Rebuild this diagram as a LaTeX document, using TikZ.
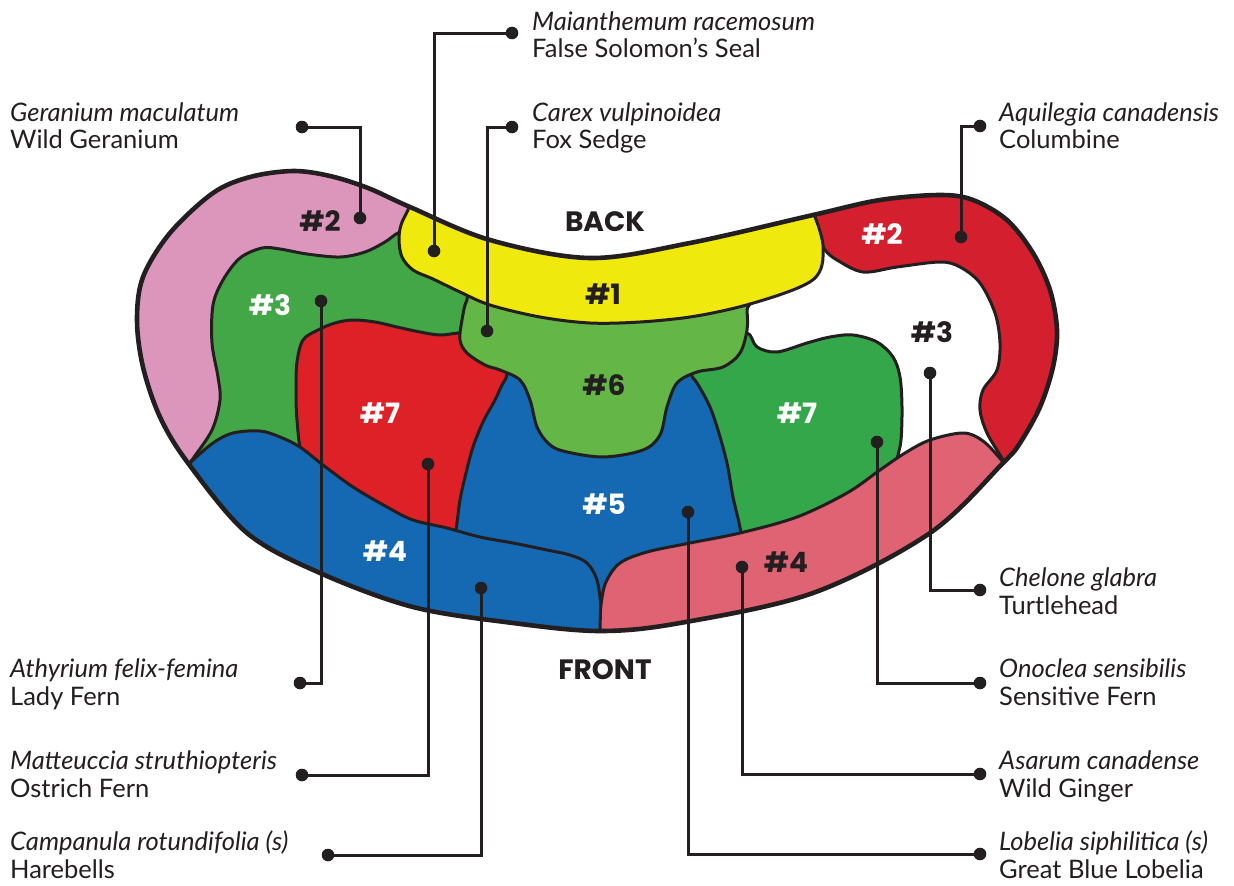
\documentclass[tikz,border=0pt]{standalone}
\usepackage{fontspec}
\setmainfont{Lato}
\newfontfamily\numfont{Poppins}
\definecolor{ink}{HTML}{231F20}
\definecolor{pinkL}{HTML}{DD96BB}
\definecolor{greenL}{HTML}{43A748}
\definecolor{redL}{HTML}{DE2027}
\definecolor{redR}{HTML}{D4202E}
\definecolor{yel}{HTML}{EFE90D}
\definecolor{lgreen}{HTML}{64B746}
\definecolor{greenR}{HTML}{34A74A}
\definecolor{blu}{HTML}{1469B2}
\definecolor{pinkR}{HTML}{DF6373}
\begin{document}
\begin{tikzpicture}[x=1pt,y=-1pt,
  region/.style={draw=ink, line width=3pt, line join=round},
  leader/.style={draw=ink, line width=3pt},
  sci/.style={anchor=base west, inner sep=0pt, text=ink, font=\itshape\fontsize{25.5}{28}\selectfont},
  com/.style={anchor=base west, inner sep=0pt, text=ink, font=\fontsize{25.5}{28}\selectfont},
  num/.style={inner sep=0pt, font=\numfont\bfseries\fontsize{28}{30}\selectfont},
  smoothpts/.style={smooth cycle, tension=0.55}]
\useasboundingbox (0,0) rectangle (1234,886);
\fill[white] (0,0) rectangle (1234,886);

\begin{scope}
\clip plot[smoothpts] coordinates {(188,463) (160,417) (143,367) (137,320) (143,277) (170,233) (213,193) (250,177) (293,171) (330,176) (368,188) (410,207) (490,240) (590,258) (690,243) (813,215) (880,200) (940,195) (973,200) (1007,220) (1033,253) (1050,290) (1057,330) (1053,367) (1040,407) (1020,443) (1003,463) (930,533) (813,593) (680,623) (600,631) (513,623) (413,607) (320,573) (247,533)};
% base fills
\fill[pinkL] (100,140) rectangle (470,500);
\fill[redR] (780,150) rectangle (1100,480);
% white #3 right
\filldraw[region, fill=white] plot[smoothpts] coordinates {(805,180) (813,218) (818,235) (825,250) (837,260) (863,272) (897,267) (940,262) (960,267) (980,283) (995,313) (1000,343) (997,370) (983,390) (980,410) (987,433) (1003,460) (1020,490) (900,520) (760,480) (720,400) (715,300) (760,230)};
% green #3 left
\filldraw[region, fill=greenL] plot[smoothpts] coordinates {(430,222) (400,232) (385,242) (365,252) (340,257) (307,254) (280,249) (262,248) (240,258) (223,280) (213,305) (212,343) (218,377) (220,400) (212,430) (192,460) (175,485) (340,500) (360,400) (420,360) (480,320) (460,260)};
% red #7 left
\filldraw[region, fill=redL] plot[smoothpts] coordinates {(297,362) (303,340) (318,330) (335,323) (353,320) (375,322) (397,327) (420,332) (440,335) (458,333) (490,330) (520,400) (470,570) (320,490) (302,455) (297,420) (296,390)};
% green #7 right
\filldraw[region, fill=greenR] plot[smoothpts] coordinates {(725,345) (747,333) (757,347) (777,352) (807,343) (830,337) (853,335) (877,342) (893,357) (900,377) (902,407) (901,440) (897,460) (890,500) (760,560) (700,500) (685,420) (680,370)};
% blue #5
\filldraw[region, fill=blu] plot[smoothpts] coordinates {(600,420) (520,365) (505,380) (495,400) (483,422) (473,447) (466,473) (460,500) (456,530) (450,565) (600,645) (745,575) (741,533) (733,497) (727,463) (718,430) (710,407) (700,388) (693,378) (680,368)};
% light green #6
\filldraw[region, fill=lgreen] plot[smoothpts] coordinates {(480,288) (467,300) (462,320) (460,340) (467,353) (485,365) (500,370) (520,380) (530,400) (537,427) (548,443) (563,451) (603,457) (643,450) (660,435) (667,407) (677,383) (697,372) (723,367) (740,353) (747,330) (747,310) (745,290) (600,305)};
% blue #4 left
\filldraw[region, fill=blu] plot[smoothpts] coordinates {(175,480) (190,463) (213,443) (233,433) (260,431) (280,437) (300,447) (323,465) (353,487) (387,507) (413,520) (447,528) (480,537) (513,543) (547,550) (570,555) (587,563) (597,580) (601,607) (602,630) (603,660) (400,670) (170,560)};
% pink #4 right
\filldraw[region, fill=pinkR] plot[smoothpts] coordinates {(599,660) (600,632) (601,605) (606,582) (620,563) (647,552) (690,543) (740,533) (797,517) (847,493) (880,470) (905,453) (930,440) (963,433) (983,441) (1003,462) (1020,485) (1020,620) (800,670)};
% yellow #1
\filldraw[region, fill=yel] plot[smoothpts] coordinates {(418,190) (408,210) (401,225) (399,240) (402,257) (413,270) (433,279) (460,292) (490,305) (540,317) (590,323) (640,322) (690,317) (735,308) (773,297) (800,287) (815,278) (822,265) (823,245) (819,228) (813,210) (812,190) (700,215) (600,235) (500,220)};
\end{scope}
% outer outline
\draw[ink, line width=4.6pt] plot[smoothpts] coordinates {(188,463) (160,417) (143,367) (137,320) (143,277) (170,233) (213,193) (250,177) (293,171) (330,176) (368,188) (410,207) (490,240) (590,258) (690,243) (813,215) (880,200) (940,195) (973,200) (1007,220) (1033,253) (1050,290) (1057,330) (1053,367) (1040,407) (1020,443) (1003,463) (930,533) (813,593) (680,623) (600,631) (513,623) (413,607) (320,573) (247,533)};

% bed labels
\node[num, text=ink] (n2L) at (320,221) {\#2};
\node[num, text=white] (n3L) at (270,305) {\#3};
\node[num, text=white] (n7L) at (380,413) {\#7};
\node[num, text=ink] (n1) at (603,294) {\#1};
\node[num, text=ink] (back) at (605,222) {BACK};
\node[num, text=ink] (n6) at (604,385) {\#6};
\node[num, text=white] (n7R) at (797,413) {\#7};
\node[num, text=white] (n2R) at (882,234) {\#2};
\node[num, text=ink] (n3R) at (932,332) {\#3};
\node[num, text=white] (n5) at (604,504) {\#5};
\node[num, text=white] (n4L) at (385,551) {\#4};
\node[num, text=ink] (n4R) at (786,562) {\#4};
\node[num, text=ink] (front) at (605,670) {FRONT};

% plant labels
\node[sci] (geoS) at (10,121) {Geranium maculatum};
\node[com] (geoC) at (10,148) {Wild Geranium};
\node[sci] (maiS) at (532,30) {Maianthemum racemosum};
\node[com] (maiC) at (532,57) {False Solomon’s Seal};
\node[sci] (carS) at (532,121) {Carex vulpinoidea};
\node[com] (carC) at (532,148) {Fox Sedge};
\node[sci] (aquS) at (999,121) {Aquilegia canadensis};
\node[com] (aquC) at (999,148) {Columbine};
\node[sci] (cheS) at (999,586) {Chelone glabra};
\node[com] (cheC) at (999,614) {Turtlehead};
\node[sci] (onoS) at (999,677) {Onoclea sensibilis};
\node[com] (onoC) at (999,705) {Sensitive Fern};
\node[sci] (asaS) at (999,769) {Asarum canadense};
\node[com] (asaC) at (999,797) {Wild Ginger};
\node[sci] (lobS) at (999,850) {Lobelia siphilitica (s)};
\node[com] (lobC) at (999,878) {Great Blue Lobelia};
\node[sci] (athS) at (10,677) {Athyrium felix-femina};
\node[com] (athC) at (10,705) {Lady Fern};
\node[sci] (matS) at (10,769) {Matteuccia struthiopteris};
\node[com] (matC) at (10,797) {Ostrich Fern};
\node[sci] (camS) at (10,850) {Campanula rotundifolia (s)};
\node[com] (camC) at (10,878) {Harebells};

% leader end points
\coordinate (geoA) at (302,127); \coordinate (geoB) at (360,218);
\coordinate (maiA) at (512,33);  \coordinate (maiB) at (434,251);
\coordinate (carA) at (512,127); \coordinate (carB) at (487,331);
\coordinate (aquA) at (980,126); \coordinate (aquB) at (961,237);
\coordinate (cheA) at (980,590); \coordinate (cheB) at (930,373);
\coordinate (onoA) at (980,683); \coordinate (onoB) at (877,442);
\coordinate (asaA) at (980,774); \coordinate (asaB) at (742,567);
\coordinate (lobA) at (980,854); \coordinate (lobB) at (688,512);
\coordinate (athA) at (300,683); \coordinate (athB) at (321,301);
\coordinate (matA) at (302,775); \coordinate (matB) at (428,464);
\coordinate (camA) at (328,855); \coordinate (camB) at (481,588);

\foreach \p in {geo,mai,car,aqu,che,ono,asa,lob,ath,mat,cam}{
  \draw[leader] (\p A) -| (\p B);
  \fill[ink] (\p A) circle[radius=6.3pt] (\p B) circle[radius=6.3pt];
}
\end{tikzpicture}
\end{document}
